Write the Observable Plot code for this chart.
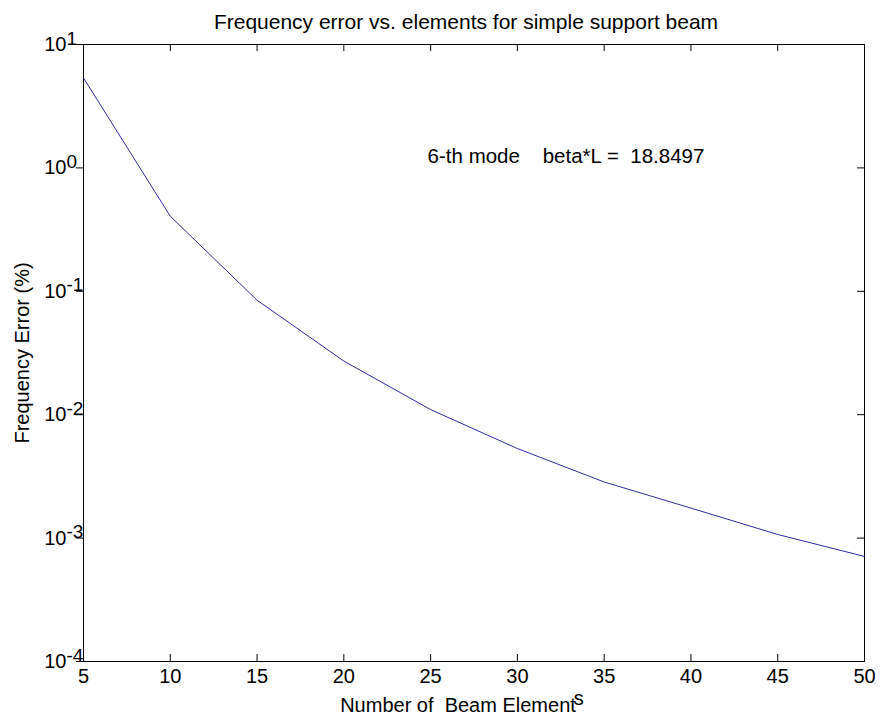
<!DOCTYPE html>
<html>
<head>
<meta charset="utf-8">
<script src="https://cdn.jsdelivr.net/npm/d3@7"></script>
<script src="https://cdn.jsdelivr.net/npm/@observablehq/plot@0.6"></script>
<style>
  html, body { margin: 0; padding: 0; background: #fff; }
  svg text { white-space: pre; }
</style>
</head>
<body>
<div id="chart"></div>
<script>
const elements = [5, 10, 15, 20, 25, 30, 35, 40, 45, 50];
const freqError = [5.36, 0.406, 0.0847, 0.0272, 0.0110, 0.00532, 0.00285, 0.00175, 0.00107, 0.00071];
const xTicks = [5, 10, 15, 20, 25, 30, 35, 40, 45, 50];
const yTickExps = [1, 0, -1, -2, -3, -4];
const titleText = "Frequency error vs. elements for simple support beam";
const xLabel = "Number of  Beam Element";
const xLabelSup = "s";
const yLabel = "Frequency Error (%)";
const note = "6-th mode    beta*L =  18.8497";

const font = "Liberation Sans, Arial, Helvetica, sans-serif";
const fs = 20;

const chart = Plot.plot({
  width: 881,
  height: 715,
  marginLeft: 83,
  marginRight: 17,
  marginTop: 44,
  marginBottom: 54,
  style: { fontFamily: font, fontSize: fs + "px", color: "black", background: "white" },
  x: { domain: [5, 50], axis: null },
  y: { type: "log", domain: [1e-4, 10], axis: null },
  marks: [
    Plot.frame({ stroke: "black", strokeWidth: 1 }),
    // inward ticks, bottom and top
    Plot.ruleX(xTicks, { x: d => d, y1: 1e-4, y2: 1e-4, insetBottom: 7, stroke: "black" }),
    Plot.ruleX(xTicks, { x: d => d, y1: 10, y2: 10, insetTop: 7, stroke: "black" }),
    // inward ticks, left and right
    Plot.ruleY(yTickExps, { y: d => 10 ** d, x1: 5, x2: 5, insetLeft: -7, stroke: "black" }),
    Plot.ruleY(yTickExps, { y: d => 10 ** d, x1: 50, x2: 50, insetRight: 7, stroke: "black" }),
    // x tick labels
    Plot.text(xTicks, { x: d => d, y: 1e-4, text: d => String(d), dy: 15, fontSize: fs, lineAnchor: "middle" }),
    // y tick labels: 10 with exponent
    Plot.text(yTickExps, { x: 5, y: d => 10 ** d, text: () => "10", dx: -17, textAnchor: "end", lineAnchor: "middle", fontSize: fs }),
    Plot.text(yTickExps, { x: 5, y: d => 10 ** d, text: d => String(d), dx: -17, dy: -6, textAnchor: "start", lineAnchor: "middle", fontSize: fs - 1 }),
    // data line
    Plot.line(elements.map((e, i) => ({ e, v: freqError[i] })), { x: "e", y: "v", stroke: "#2b2b9c", strokeWidth: 1 }),
    // annotation
    Plot.text([note], { x: 25, y: 1.24, text: d => d, dx: -3, textAnchor: "start", lineAnchor: "middle", fontSize: fs + 0.5 }),
    // title
    Plot.text([titleText], { frameAnchor: "top", text: d => d, dy: -22, dx: -8, lineAnchor: "middle", fontSize: fs + 1 }),
    // x label
    Plot.text([xLabel], { frameAnchor: "bottom", text: d => d, dy: 44, dx: -12, textAnchor: "middle", lineAnchor: "middle", fontSize: fs, className: "xlabel" }),
    // y label
    Plot.text([yLabel], { frameAnchor: "left", text: d => d, dx: -61, rotate: -90, textAnchor: "middle", lineAnchor: "middle", fontSize: fs })
  ]
});

document.getElementById("chart").appendChild(chart);

// raised trailing "s" on the x label, as in the reference
d3.select(chart).selectAll("g.xlabel text").each(function () {
  const t = d3.select(this);
  const txt = t.text();
  t.text(null);
  t.append("tspan").text(txt);
  t.append("tspan").attr("dy", "-0.35em").attr("dx", "-0.1em").text(xLabelSup);
});
</script>
</body>
</html>
